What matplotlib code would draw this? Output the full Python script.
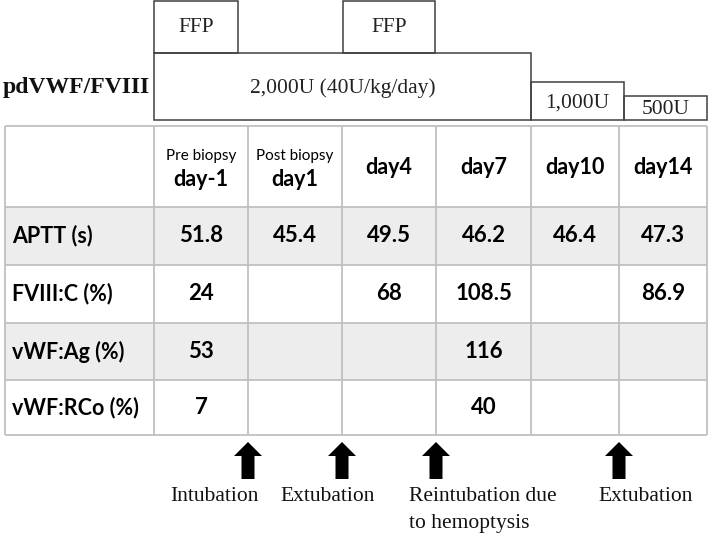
import matplotlib
matplotlib.use("Agg")
import matplotlib.pyplot as plt
from matplotlib.patches import Rectangle, Polygon

# ---------------- data ----------------
columns = ["day-1", "day1", "day4", "day7", "day10", "day14"]
column_notes = ["Pre biopsy", "Post biopsy", "", "", "", ""]
row_labels = ["APTT (s)", "FVIII:C (%)", "vWF:Ag (%)", "vWF:RCo (%)"]
aptt = ["51.8", "45.4", "49.5", "46.2", "46.4", "47.3"]
fviii_c = ["24", "", "68", "108.5", "", "86.9"]
vwf_ag = ["53", "", "", "116", "", ""]
vwf_rco = ["7", "", "", "40", "", ""]
dose_title = "pdVWF/FVIII"
dose_labels = ["2,000U (40U/kg/day)", "1,000U", "500U"]
ffp_labels = ["FFP", "FFP"]
event_labels = ["Intubation", "Extubation", "Reintubation due\nto hemoptysis", "Extubation"]

# ---------------- layout ----------------
W, H = 708, 536
col_edges = [5, 154, 248, 342, 436, 531, 619, 707]
row_edges = [126, 207, 265, 323, 380, 435]
row_fill = ["white", "#ededed", "white", "#ededed", "white"]
grid_col = "#c0c0c0"
box_col = "#404040"

serif = ["Liberation Serif", "DejaVu Serif"]
sans = ["Lato", "DejaVu Sans"]

fig = plt.figure(figsize=(W / 100, H / 100), dpi=100)
ax = fig.add_axes([0, 0, 1, 1])
ax.set_xlim(0, W)
ax.set_ylim(H, 0)
ax.axis("off")

# ---- dosing boxes ----
dose_boxes = [(154, 531, 53), (531, 624, 82), (624, 707, 96)]
dose_bottom = 120
for (x0, x1, yt), lab in zip(dose_boxes, dose_labels):
    ax.add_patch(Rectangle((x0, yt), x1 - x0, dose_bottom - yt, fill=False,
                           ec=box_col, lw=1.1))
    ax.text((x0 + x1) / 2, (yt + dose_bottom) / 2 + 2, lab, ha="center", va="center",
            fontsize=15.5, family=serif, color="#222222")
ffp_boxes = [(154, 238), (343, 435)]
for (x0, x1), lab in zip(ffp_boxes, ffp_labels):
    ax.add_patch(Rectangle((x0, 1), x1 - x0, 52, fill=False, ec=box_col, lw=1.1))
    ax.text((x0 + x1) / 2, 28, lab, ha="center", va="center",
            fontsize=15.5, family=serif, color="#222222")
ax.text(150, 88, dose_title, ha="right", va="center", fontsize=17,
        family=serif, fontweight="bold", color="#111111")

# ---- table ----
table_vals = [aptt, fviii_c, vwf_ag, vwf_rco]
x_left, x_right = col_edges[0], col_edges[-1]
for r in range(len(row_edges) - 1):
    ax.add_patch(Rectangle((x_left, row_edges[r]), x_right - x_left,
                           row_edges[r + 1] - row_edges[r], fc=row_fill[r], ec="none"))
for y in row_edges:
    ax.plot([x_left, x_right], [y, y], color=grid_col, lw=1.3, solid_capstyle="butt")
for x in col_edges:
    ax.plot([x, x], [row_edges[0], row_edges[-1]], color=grid_col, lw=1.3,
            solid_capstyle="butt")

# header
for i, (c, n) in enumerate(zip(columns, column_notes)):
    cx = (col_edges[i + 1] + col_edges[i + 2]) / 2
    if n:
        ax.text(cx, 156, n, ha="center", va="center", fontsize=11, family=sans,
                color="black")
        ax.text(cx, 180, c, ha="center", va="center", fontsize=15.5, family=sans,
                fontweight="bold", color="black")
    else:
        ax.text(cx, 167, c, ha="center", va="center", fontsize=15.5, family=sans,
                fontweight="bold", color="black")

for r, (lab, vals) in enumerate(zip(row_labels, table_vals)):
    cy = (row_edges[r + 1] + row_edges[r + 2]) / 2
    ax.text(12, cy, lab, ha="left", va="center", fontsize=15.5, family=sans,
            fontweight="bold", color="black")
    for i, v in enumerate(vals):
        cx = (col_edges[i + 1] + col_edges[i + 2]) / 2
        ax.text(cx, cy, v, ha="center", va="center", fontsize=16, family=sans,
                fontweight="bold", color="black")

# ---- event arrows ----
arrow_cols = [2, 3, 4, 6]
label_pos = [(214, "center"), (328, "center"), (409, "left"), (646, "center")]
tip, base, bottom = 442, 456, 479
for ci, lab, (lx, ha) in zip(arrow_cols, event_labels, label_pos):
    x = col_edges[ci]
    pts = [(x, tip), (x + 14, base), (x + 6.5, base), (x + 6.5, bottom),
           (x - 6.5, bottom), (x - 6.5, base), (x - 14, base)]
    ax.add_patch(Polygon(pts, closed=True, fc="black", ec="none"))
    ax.text(lx, 487, lab, ha=ha, va="top", fontsize=15.5, family=serif,
            color="#111111", linespacing=1.55, multialignment="left")

fig.savefig("out.png", dpi=100)
